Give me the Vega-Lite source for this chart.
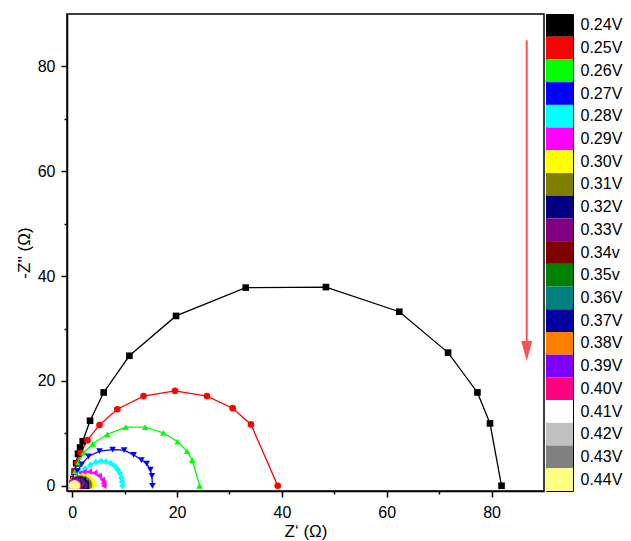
{
  "$schema": "https://vega.github.io/schema/vega-lite/v6.json",
  "padding": {"left": 14, "top": 13, "right": 0, "bottom": 0},
  "background": "white",
  "spacing": 0,
  "config": {
    "font": "Liberation Sans",
    "view": {"stroke": "black", "strokeWidth": 1.5},
    "axis": {
      "grid": false,
      "domainColor": "black",
      "domainWidth": 1.5,
      "tickColor": "black",
      "tickWidth": 1.5,
      "labelColor": "black",
      "labelFont": "Liberation Sans",
      "labelFontSize": 16,
      "titleFont": "Liberation Sans",
      "titleFontSize": 17,
      "titleFontWeight": "normal",
      "titleColor": "black"
    }
  },
  "datasets": {
    "eis": [
      {"s":"0.24V","i":1,"x":0.05,"y":0.3},{"s":"0.24V","i":2,"x":0.2,"y":1.3},{"s":"0.24V","i":3,"x":0.45,"y":2.7},{"s":"0.24V","i":4,"x":0.75,"y":4.3},{"s":"0.24V","i":5,"x":1.1,"y":6.1},{"s":"0.24V","i":6,"x":1.5,"y":7.3},{"s":"0.24V","i":7,"x":2.0,"y":8.5},{"s":"0.24V","i":8,"x":3.4,"y":12.4},{"s":"0.24V","i":9,"x":6.0,"y":17.8},{"s":"0.24V","i":10,"x":10.9,"y":24.8},{"s":"0.24V","i":11,"x":19.8,"y":32.4},{"s":"0.24V","i":12,"x":33.1,"y":37.8},{"s":"0.24V","i":13,"x":48.4,"y":37.9},{"s":"0.24V","i":14,"x":62.4,"y":33.2},{"s":"0.24V","i":15,"x":71.7,"y":25.4},{"s":"0.24V","i":16,"x":77.3,"y":17.8},{"s":"0.24V","i":17,"x":79.7,"y":11.9},{"s":"0.24V","i":18,"x":81.9,"y":0},
      {"s":"0.25V","i":1,"x":0.05,"y":0.3},{"s":"0.25V","i":2,"x":0.2,"y":1.2},{"s":"0.25V","i":3,"x":0.5,"y":2.6},{"s":"0.25V","i":4,"x":1.0,"y":4.3},{"s":"0.25V","i":5,"x":1.6,"y":6.3},{"s":"0.25V","i":6,"x":2.9,"y":8.7},{"s":"0.25V","i":7,"x":5.2,"y":11.6},{"s":"0.25V","i":8,"x":8.6,"y":14.6},{"s":"0.25V","i":9,"x":13.6,"y":17.1},{"s":"0.25V","i":10,"x":19.6,"y":18.1},{"s":"0.25V","i":11,"x":25.7,"y":17.1},{"s":"0.25V","i":12,"x":30.6,"y":14.8},{"s":"0.25V","i":13,"x":34.1,"y":11.7},{"s":"0.25V","i":14,"x":39.2,"y":0},
      {"s":"0.26V","i":1,"x":0.05,"y":0.3},{"s":"0.26V","i":2,"x":0.25,"y":1.3},{"s":"0.26V","i":3,"x":0.6,"y":2.8},{"s":"0.26V","i":4,"x":1.2,"y":4.5},{"s":"0.26V","i":5,"x":2.2,"y":6.3},{"s":"0.26V","i":6,"x":3.9,"y":8.0},{"s":"0.26V","i":7,"x":6.7,"y":9.8},{"s":"0.26V","i":8,"x":10.2,"y":11.2},{"s":"0.26V","i":9,"x":13.9,"y":11.2},{"s":"0.26V","i":10,"x":17.4,"y":10.1},{"s":"0.26V","i":11,"x":20.1,"y":8.4},{"s":"0.26V","i":12,"x":21.9,"y":6.6},{"s":"0.26V","i":13,"x":22.9,"y":4.9},{"s":"0.26V","i":14,"x":24.3,"y":0},
      {"s":"0.27V","i":1,"x":0.05,"y":0.2},{"s":"0.27V","i":2,"x":0.2,"y":0.8},{"s":"0.27V","i":3,"x":0.5,"y":1.7},{"s":"0.27V","i":4,"x":1.0,"y":2.8},{"s":"0.27V","i":5,"x":1.8,"y":4.1},{"s":"0.27V","i":6,"x":3.1,"y":5.6},{"s":"0.27V","i":7,"x":5.2,"y":6.6},{"s":"0.27V","i":8,"x":7.7,"y":6.9},{"s":"0.27V","i":9,"x":9.9,"y":6.8},{"s":"0.27V","i":10,"x":11.7,"y":5.9},{"s":"0.27V","i":11,"x":13.2,"y":4.9},{"s":"0.27V","i":12,"x":14.2,"y":4.2},{"s":"0.27V","i":13,"x":14.9,"y":3.1},{"s":"0.27V","i":14,"x":15.2,"y":1.9},{"s":"0.27V","i":15,"x":15.3,"y":0},
      {"s":"0.28V","i":1,"x":0.1,"y":0.3},{"s":"0.28V","i":2,"x":0.4,"y":0.9},{"s":"0.28V","i":3,"x":0.9,"y":1.7},{"s":"0.28V","i":4,"x":1.6,"y":2.5},{"s":"0.28V","i":5,"x":2.5,"y":3.3},{"s":"0.28V","i":6,"x":3.5,"y":4.0},{"s":"0.28V","i":7,"x":4.5,"y":4.5},{"s":"0.28V","i":8,"x":5.5,"y":4.7},{"s":"0.28V","i":9,"x":6.4,"y":4.6},{"s":"0.28V","i":10,"x":7.3,"y":4.3},{"s":"0.28V","i":11,"x":8.1,"y":3.8},{"s":"0.28V","i":12,"x":8.7,"y":3.1},{"s":"0.28V","i":13,"x":9.1,"y":2.4},{"s":"0.28V","i":14,"x":9.4,"y":1.5},{"s":"0.28V","i":15,"x":9.5,"y":0.8},{"s":"0.28V","i":16,"x":9.6,"y":0},
      {"s":"0.29V","i":1,"x":0.03,"y":0.38},{"s":"0.29V","i":2,"x":0.18,"y":0.92},{"s":"0.29V","i":3,"x":0.54,"y":1.54},{"s":"0.29V","i":4,"x":1.28,"y":2.21},{"s":"0.29V","i":5,"x":2.23,"y":2.62},{"s":"0.29V","i":6,"x":3.26,"y":2.69},{"s":"0.29V","i":7,"x":4.27,"y":2.45},{"s":"0.29V","i":8,"x":5.12,"y":1.91},{"s":"0.29V","i":9,"x":5.72,"y":1.14},{"s":"0.29V","i":10,"x":5.95,"y":0.47},{"s":"0.29V","i":11,"x":6.0,"y":0},
      {"s":"0.30V","i":1,"x":0.02,"y":0.27},{"s":"0.30V","i":2,"x":0.13,"y":0.65},{"s":"0.30V","i":3,"x":0.39,"y":1.08},{"s":"0.30V","i":4,"x":0.92,"y":1.56},{"s":"0.30V","i":5,"x":1.6,"y":1.84},{"s":"0.30V","i":6,"x":2.34,"y":1.89},{"s":"0.30V","i":7,"x":3.06,"y":1.72},{"s":"0.30V","i":8,"x":3.67,"y":1.34},{"s":"0.30V","i":9,"x":4.1,"y":0.8},{"s":"0.30V","i":10,"x":4.27,"y":0.33},{"s":"0.30V","i":11,"x":4.3,"y":0},
      {"s":"0.31V","i":1,"x":0.02,"y":0.2},{"s":"0.31V","i":2,"x":0.1,"y":0.48},{"s":"0.31V","i":3,"x":0.29,"y":0.8},{"s":"0.31V","i":4,"x":0.68,"y":1.15},{"s":"0.31V","i":5,"x":1.19,"y":1.36},{"s":"0.31V","i":6,"x":1.74,"y":1.39},{"s":"0.31V","i":7,"x":2.28,"y":1.27},{"s":"0.31V","i":8,"x":2.73,"y":0.99},{"s":"0.31V","i":9,"x":3.05,"y":0.59},{"s":"0.31V","i":10,"x":3.17,"y":0.24},{"s":"0.31V","i":11,"x":3.2,"y":0},
      {"s":"0.32V","i":1,"x":0.08,"y":0.39},{"s":"0.32V","i":2,"x":0.55,"y":0.94},{"s":"0.32V","i":3,"x":1.3,"y":1.15},{"s":"0.32V","i":4,"x":2.05,"y":0.94},{"s":"0.32V","i":5,"x":2.52,"y":0.39},{"s":"0.32V","i":6,"x":2.6,"y":0},
      {"s":"0.33V","i":1,"x":0.07,"y":0.34},{"s":"0.33V","i":2,"x":0.47,"y":0.82},{"s":"0.33V","i":3,"x":1.1,"y":1.0},{"s":"0.33V","i":4,"x":1.73,"y":0.82},{"s":"0.33V","i":5,"x":2.13,"y":0.34},{"s":"0.33V","i":6,"x":2.2,"y":0},
      {"s":"0.34v","i":1,"x":0.06,"y":0.29},{"s":"0.34v","i":2,"x":0.4,"y":0.7},{"s":"0.34v","i":3,"x":0.95,"y":0.85},{"s":"0.34v","i":4,"x":1.5,"y":0.7},{"s":"0.34v","i":5,"x":1.84,"y":0.29},{"s":"0.34v","i":6,"x":1.9,"y":0},
      {"s":"0.35v","i":1,"x":0.05,"y":0.26},{"s":"0.35v","i":2,"x":0.36,"y":0.62},{"s":"0.35v","i":3,"x":0.85,"y":0.75},{"s":"0.35v","i":4,"x":1.34,"y":0.62},{"s":"0.35v","i":5,"x":1.65,"y":0.26},{"s":"0.35v","i":6,"x":1.7,"y":0},
      {"s":"0.36V","i":1,"x":0.05,"y":0.22},{"s":"0.36V","i":2,"x":0.32,"y":0.54},{"s":"0.36V","i":3,"x":0.75,"y":0.66},{"s":"0.36V","i":4,"x":1.18,"y":0.54},{"s":"0.36V","i":5,"x":1.46,"y":0.22},{"s":"0.36V","i":6,"x":1.5,"y":0},
      {"s":"0.37V","i":1,"x":0.04,"y":0.2},{"s":"0.37V","i":2,"x":0.29,"y":0.49},{"s":"0.37V","i":3,"x":0.68,"y":0.6},{"s":"0.37V","i":4,"x":1.06,"y":0.49},{"s":"0.37V","i":5,"x":1.31,"y":0.2},{"s":"0.37V","i":6,"x":1.35,"y":0},
      {"s":"0.38V","i":1,"x":0.04,"y":0.18},{"s":"0.38V","i":2,"x":0.26,"y":0.44},{"s":"0.38V","i":3,"x":0.6,"y":0.54},{"s":"0.38V","i":4,"x":0.94,"y":0.44},{"s":"0.38V","i":5,"x":1.16,"y":0.18},{"s":"0.38V","i":6,"x":1.2,"y":0},
      {"s":"0.39V","i":1,"x":0.03,"y":0.17},{"s":"0.39V","i":2,"x":0.23,"y":0.41},{"s":"0.39V","i":3,"x":0.55,"y":0.5},{"s":"0.39V","i":4,"x":0.87,"y":0.41},{"s":"0.39V","i":5,"x":1.07,"y":0.17},{"s":"0.39V","i":6,"x":1.1,"y":0},
      {"s":"0.40V","i":1,"x":0.03,"y":0.15},{"s":"0.40V","i":2,"x":0.21,"y":0.37},{"s":"0.40V","i":3,"x":0.5,"y":0.45},{"s":"0.40V","i":4,"x":0.79,"y":0.37},{"s":"0.40V","i":5,"x":0.97,"y":0.15},{"s":"0.40V","i":6,"x":1.0,"y":0},
      {"s":"0.41V","i":1,"x":0.03,"y":0.14},{"s":"0.41V","i":2,"x":0.19,"y":0.33},{"s":"0.41V","i":3,"x":0.45,"y":0.4},{"s":"0.41V","i":4,"x":0.71,"y":0.33},{"s":"0.41V","i":5,"x":0.87,"y":0.14},{"s":"0.41V","i":6,"x":0.9,"y":0},
      {"s":"0.42V","i":1,"x":0.03,"y":0.13},{"s":"0.42V","i":2,"x":0.18,"y":0.31},{"s":"0.42V","i":3,"x":0.43,"y":0.38},{"s":"0.42V","i":4,"x":0.67,"y":0.31},{"s":"0.42V","i":5,"x":0.82,"y":0.13},{"s":"0.42V","i":6,"x":0.85,"y":0},
      {"s":"0.43V","i":1,"x":0.02,"y":0.12},{"s":"0.43V","i":2,"x":0.17,"y":0.3},{"s":"0.43V","i":3,"x":0.4,"y":0.36},{"s":"0.43V","i":4,"x":0.63,"y":0.3},{"s":"0.43V","i":5,"x":0.78,"y":0.12},{"s":"0.43V","i":6,"x":0.8,"y":0},
      {"s":"0.44V","i":1,"x":0.02,"y":0.11},{"s":"0.44V","i":2,"x":0.16,"y":0.27},{"s":"0.44V","i":3,"x":0.38,"y":0.33},{"s":"0.44V","i":4,"x":0.59,"y":0.27},{"s":"0.44V","i":5,"x":0.73,"y":0.11},{"s":"0.44V","i":6,"x":0.75,"y":0}
    ],
    "arrow": [{"ax": 86.7, "ay": 85.0, "ay2": 27.5, "hy": 25.7}],
    "legend": [
      {"s":"0.24V"},{"s":"0.25V"},{"s":"0.26V"},{"s":"0.27V"},{"s":"0.28V"},{"s":"0.29V"},{"s":"0.30V"},{"s":"0.31V"},{"s":"0.32V"},{"s":"0.33V"},{"s":"0.34v"},{"s":"0.35v"},{"s":"0.36V"},{"s":"0.37V"},{"s":"0.38V"},{"s":"0.39V"},{"s":"0.40V"},{"s":"0.41V"},{"s":"0.42V"},{"s":"0.43V"},{"s":"0.44V"}
    ]
  },
  "hconcat": [
    {
      "width": 477,
      "height": 477,
      "layer": [
        {
          "data": {"name": "eis"},
          "mark": {"type": "line", "strokeWidth": 1.3},
          "encoding": {
            "x": {"field": "x", "type": "quantitative", "scale": {"domain": [-1, 90], "nice": false, "zero": false},
              "axis": {"title": "Z‘ (Ω)", "values": [0,10,20,30,40,50,60,70,80], "labelExpr": "datum.value % 20 === 0 ? datum.label : ''",
                "tickSize": {"condition": {"test": "datum.value % 20 === 0", "value": 6}, "value": 3},
                "labelPadding": 7, "titlePadding": 3, "labelFlush": false, "labelOverlap": false}},
            "y": {"field": "y", "type": "quantitative", "scale": {"domain": [-1, 90], "nice": false, "zero": false},
              "axis": {"title": "-Z'' (Ω)", "values": [0,10,20,30,40,50,60,70,80], "labelExpr": "datum.value % 20 === 0 ? datum.label : ''",
                "tickSize": {"condition": {"test": "datum.value % 20 === 0", "value": 6}, "value": 3},
                "labelPadding": 6, "titlePadding": 4, "labelFlush": false, "labelOverlap": false}},
            "color": {"field": "s", "type": "nominal", "legend": null,
              "scale": {"domain": ["0.24V","0.25V","0.26V","0.27V","0.28V","0.29V","0.30V","0.31V","0.32V","0.33V","0.34v","0.35v","0.36V","0.37V","0.38V","0.39V","0.40V","0.41V","0.42V","0.43V","0.44V"],
                "range": ["#000000","#FF0000","#00FF00","#0000FF","#00FFFF","#FF00FF","#FFFF00","#808000","#000080","#800080","#800000","#008000","#008080","#0000A0","#FF8000","#8000FF","#FF0080","#FFFFFF","#C0C0C0","#808080","#FFFF80"]}},
            "order": {"field": "i", "type": "quantitative"}
          }
        },
        {
          "data": {"name": "eis"},
          "mark": {"type": "point", "filled": true, "opacity": 1, "size": 44},
          "encoding": {
            "x": {"field": "x", "type": "quantitative"},
            "y": {"field": "y", "type": "quantitative"},
            "color": {"field": "s", "type": "nominal", "legend": null},
            "shape": {"field": "s", "type": "nominal", "legend": null,
              "scale": {"domain": ["0.24V","0.25V","0.26V","0.27V","0.28V","0.29V","0.30V","0.31V","0.32V","0.33V","0.34v","0.35v","0.36V","0.37V","0.38V","0.39V","0.40V","0.41V","0.42V","0.43V","0.44V"],
                "range": ["square","circle","triangle-up","triangle-down","diamond","triangle-left","triangle-right","circle","square","circle","triangle-up","triangle-down","diamond","triangle-left","triangle-right","circle","square","circle","triangle-up","triangle-down","circle"]}}
          }
        },
        {
          "data": {"name": "arrow"},
          "mark": {"type": "rule", "color": "#FF5050", "strokeWidth": 2},
          "encoding": {
            "x": {"field": "ax", "type": "quantitative"},
            "y": {"field": "ay", "type": "quantitative"},
            "y2": {"field": "ay2"}
          }
        },
        {
          "data": {"name": "arrow"},
          "mark": {"type": "point", "filled": true, "opacity": 1, "color": "#FF5050", "size": 400, "shape": "M-0.55,-1L0.55,-1L0,1Z"},
          "encoding": {
            "x": {"field": "ax", "type": "quantitative"},
            "y": {"field": "hy", "type": "quantitative"}
          }
        }
      ]
    },
    {
      "width": 27,
      "height": 477,
      "view": {"stroke": "black", "strokeWidth": 1},
      "data": {"name": "legend"},
      "mark": {"type": "rect"},
      "encoding": {
        "y": {"field": "s", "type": "nominal", "sort": null, "scale": {"paddingInner": 0, "paddingOuter": 0},
          "axis": {"orient": "right", "title": null, "domain": false, "ticks": false, "labelPadding": 7, "labelFontSize": 16}},
        "fill": {"field": "s", "type": "nominal", "legend": null,
          "scale": {"domain": ["0.24V","0.25V","0.26V","0.27V","0.28V","0.29V","0.30V","0.31V","0.32V","0.33V","0.34v","0.35v","0.36V","0.37V","0.38V","0.39V","0.40V","0.41V","0.42V","0.43V","0.44V"],
            "range": ["#000000","#FF0000","#00FF00","#0000FF","#00FFFF","#FF00FF","#FFFF00","#808000","#000080","#800080","#800000","#008000","#008080","#0000A0","#FF8000","#8000FF","#FF0080","#FFFFFF","#C0C0C0","#808080","#FFFF80"]}}
      }
    }
  ]
}
